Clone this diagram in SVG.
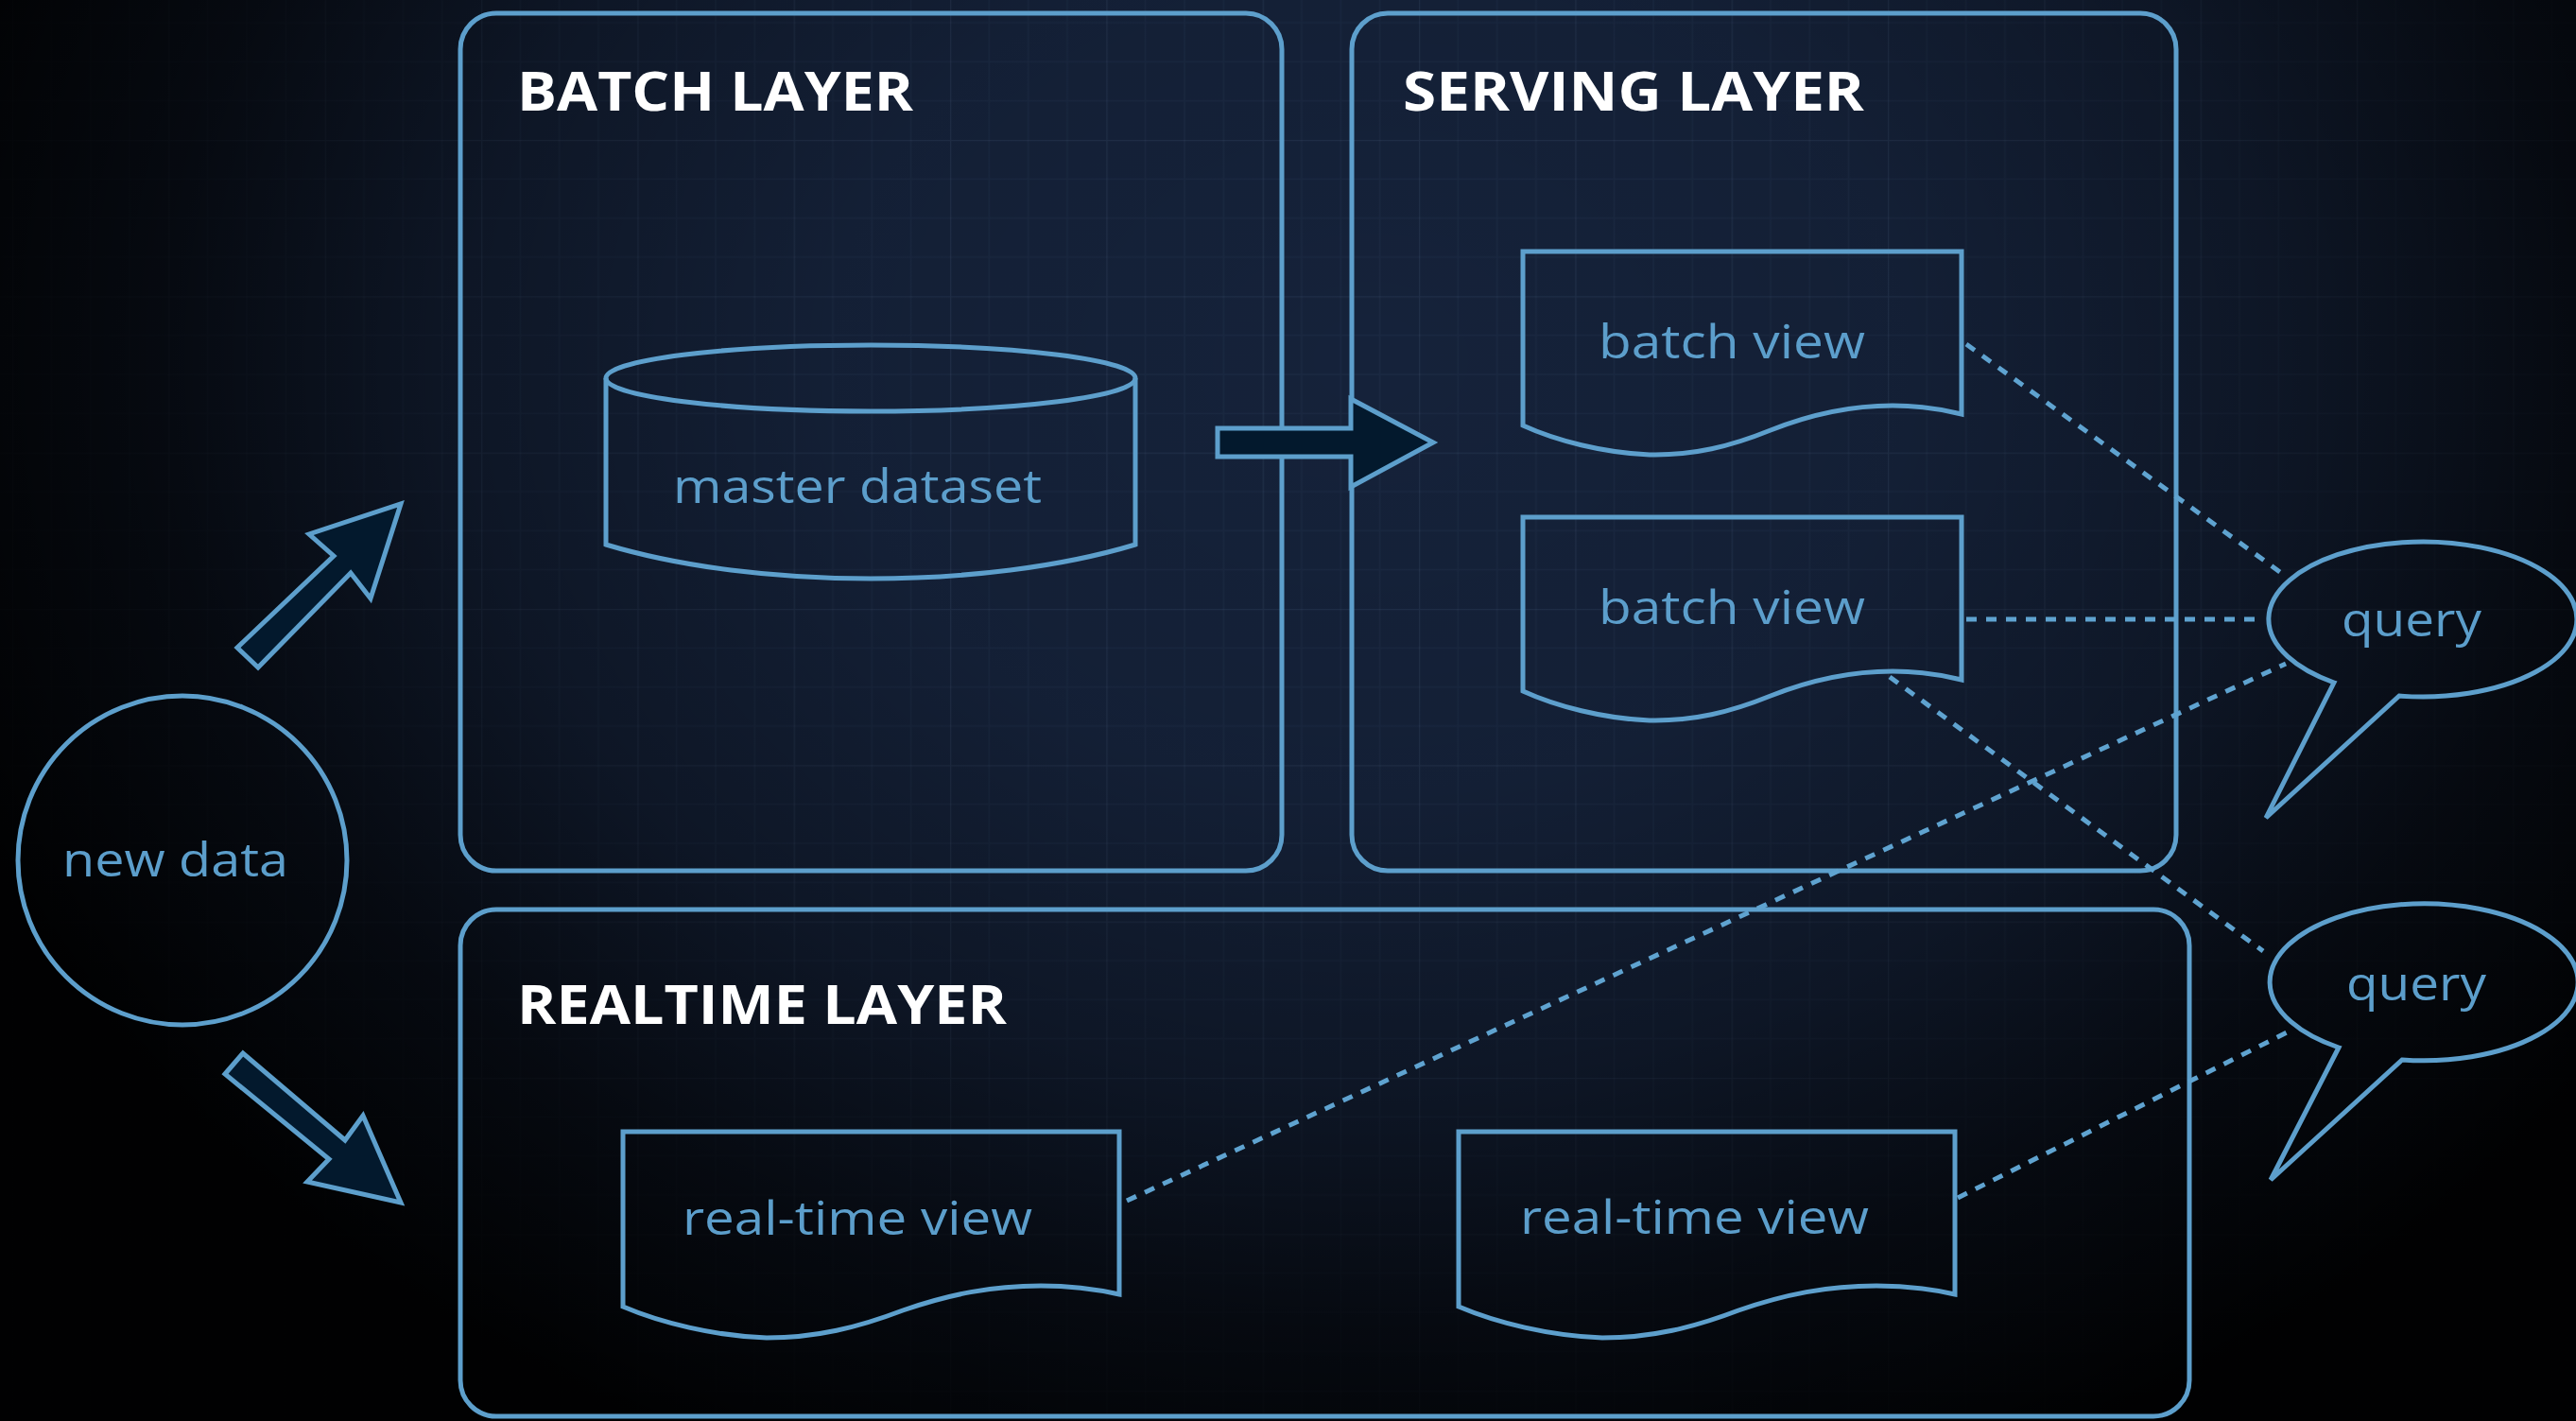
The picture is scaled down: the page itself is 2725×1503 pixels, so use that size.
<svg xmlns="http://www.w3.org/2000/svg" width="2725" height="1503" viewBox="0 0 2725 1503">
  <defs>
    <style>
      .frame { fill: none; stroke: #5d9fcc; stroke-width: 5; }
      .shape { fill: none; stroke: #5d9fcc; stroke-width: 5; stroke-linejoin: miter; }
      .label { font-family: "Open Sans", "Liberation Sans", sans-serif; font-weight: 400; font-size: 50px; fill: #5c9ecb; }
      .title { font-family: "Open Sans", "Liberation Sans", sans-serif; font-weight: 700; font-size: 57px; fill: #ffffff; }
      .flow { fill: #03192d; stroke: #5d9fcc; stroke-width: 5; stroke-linejoin: miter; }
      .dash { fill: none; stroke: #5fa3d0; stroke-width: 5; stroke-dasharray: 11 10; }
    </style>
    <pattern id="grid" patternUnits="userSpaceOnUse" x="13" y="148" width="165.33" height="165.33">
      <g stroke="#8fb4dc" fill="none">
        <path d="M0,0 V165.33 M0,0 H165.33" stroke-width="2.5" stroke-opacity="0.09"/>
        <path d="M41.33,0 V165.33 M82.67,0 V165.33 M124,0 V165.33 M0,41.33 H165.33 M0,82.67 H165.33 M0,124 H165.33" stroke-width="1.5" stroke-opacity="0.045"/>
      </g>
    </pattern>
    <radialGradient id="vignette" gradientUnits="userSpaceOnUse" cx="1450" cy="380" r="1600" gradientTransform="translate(1450 380) scale(1 0.8) translate(-1450 -380)">
      <stop offset="0" stop-color="#000" stop-opacity="0"/>
      <stop offset="0.35" stop-color="#000" stop-opacity="0.08"/>
      <stop offset="0.6" stop-color="#000" stop-opacity="0.35"/>
      <stop offset="0.8" stop-color="#000" stop-opacity="0.72"/>
      <stop offset="1" stop-color="#000" stop-opacity="0.97"/>
    </radialGradient>
  </defs>

  <!-- backdrop: navy base, blueprint grid, dark vignette -->
  <rect width="2725" height="1503" fill="#15223a"/>
  <rect width="2725" height="1503" fill="url(#grid)"/>
  <rect width="2725" height="1503" fill="url(#vignette)"/>

  <g id="batch-layer">
    <rect class="frame" x="487" y="14" width="869" height="907" rx="38" ry="38"/>
    <text class="title" x="547" y="117" textLength="419" lengthAdjust="spacingAndGlyphs">BATCH LAYER</text>
  </g>

  <g id="serving-layer">
    <rect class="frame" x="1430" y="14" width="872" height="907" rx="38" ry="38"/>
    <text class="title" x="1484" y="117" textLength="488" lengthAdjust="spacingAndGlyphs">SERVING LAYER</text>
  </g>

  <g id="realtime-layer">
    <rect class="frame" x="487" y="962" width="1829" height="536" rx="38" ry="38"/>
    <text class="title" x="547" y="1083" textLength="518" lengthAdjust="spacingAndGlyphs">REALTIME LAYER</text>
  </g>

  <g id="master-dataset">
    <path class="shape" d="M641,400 V576 C800,624 1042,624 1201,576 V400"/>
    <ellipse class="shape" cx="921" cy="400" rx="280" ry="35"/>
    <text class="label" x="712" y="532" textLength="390" lengthAdjust="spacingAndGlyphs">master dataset</text>
  </g>

  <g id="batch-view-1">
    <path class="shape" transform="translate(1611 266)" d="M0,0 H464 V172 C440,166 415,163 391,163 C345,163 305,172 262,189 C220,206 180,216 134,215 C85,213 35,200 0,184 Z"/>
    <text class="label" x="1691" y="379" textLength="282" lengthAdjust="spacingAndGlyphs">batch view</text>
  </g>

  <g id="batch-view-2">
    <path class="shape" transform="translate(1611 547)" d="M0,0 H464 V172 C440,166 415,163 391,163 C345,163 305,172 262,189 C220,206 180,216 134,215 C85,213 35,200 0,184 Z"/>
    <text class="label" x="1691" y="660" textLength="282" lengthAdjust="spacingAndGlyphs">batch view</text>
  </g>

  <g id="realtime-view-1">
    <path class="shape" transform="translate(659 1197)" d="M0,0 H525 V172 C498,166 470,163 442,163 C390,163 345,172 296,189 C249,207 204,218 152,218 C96,216 40,202 0,185 Z"/>
    <text class="label" x="722" y="1306" textLength="370" lengthAdjust="spacingAndGlyphs">real-time view</text>
  </g>

  <g id="realtime-view-2">
    <path class="shape" transform="translate(1543 1197)" d="M0,0 H525 V172 C498,166 470,163 442,163 C390,163 345,172 296,189 C249,207 204,218 152,218 C96,216 40,202 0,185 Z"/>
    <text class="label" x="1608" y="1305" textLength="369" lengthAdjust="spacingAndGlyphs">real-time view</text>
  </g>

  <g id="new-data">
    <circle class="shape" cx="193" cy="910" r="174"/>
    <text class="label" x="66" y="927" textLength="239" lengthAdjust="spacingAndGlyphs">new data</text>
  </g>

  <g id="query-1">
    <path class="shape" d="M2469,722 L2397,865 L2538,736 A163,82 0 1 0 2469,722 Z"/>
    <text class="label" x="2477" y="673" textLength="148" lengthAdjust="spacingAndGlyphs">query</text>
  </g>

  <g id="query-2">
    <path class="shape" d="M2474,1108 L2402,1248 L2541,1121 A163,83 0 1 0 2474,1108 Z"/>
    <text class="label" x="2482" y="1058" textLength="148" lengthAdjust="spacingAndGlyphs">query</text>
  </g>

  <g id="connectors">
    <!-- data flow arrows -->
    <polygon class="flow" points="424,533 392,633 371,606 273,706 251,685 353,588 327,565"/>
    <polygon class="flow" points="238,1136 257,1114 365,1206 384,1180 424,1272 325,1250 348,1226"/>
    <polygon class="flow" points="1288,453 1429,453 1429,422 1516,468 1429,515 1429,483 1288,483"/>
    <!-- query links -->
    <line class="dash" x1="2080" y1="364" x2="2416" y2="608"/>
    <line class="dash" x1="2080" y1="655" x2="2394" y2="655"/>
    <line class="dash" x1="1999" y1="716" x2="2394" y2="1006"/>
    <line class="dash" x1="1192" y1="1270" x2="2418" y2="702"/>
    <line class="dash" x1="2071" y1="1267" x2="2423" y2="1090"/>
  </g>
</svg>
